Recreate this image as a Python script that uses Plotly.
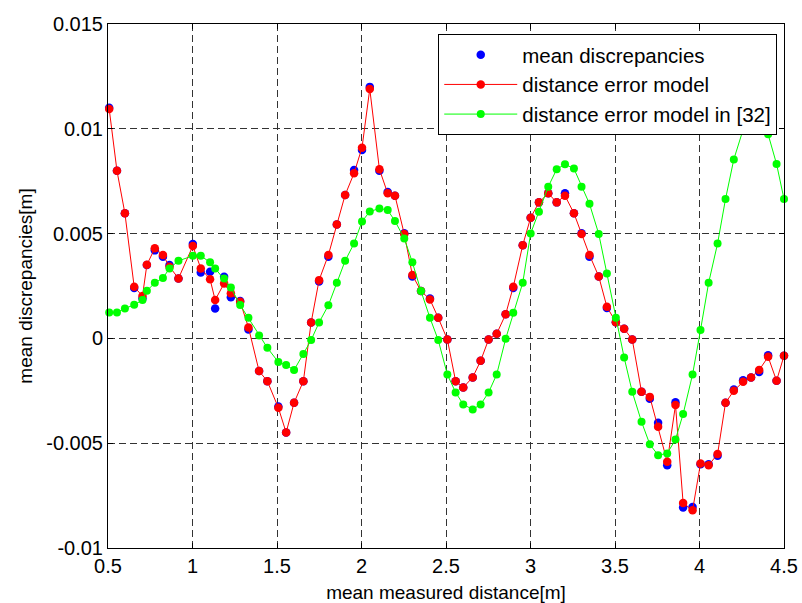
import plotly.graph_objects as go

# mean measured distance [m]
distance = [
    0.507, 0.553, 0.600, 0.655, 0.704, 0.730, 0.777, 0.825, 0.864, 0.917,
    1.002, 1.049, 1.104, 1.134, 1.187, 1.227, 1.282, 1.331, 1.394, 1.443,
    1.508, 1.554, 1.601, 1.656, 1.702, 1.749, 1.804, 1.854, 1.903, 1.956,
    2.003, 2.049, 2.106, 2.155, 2.198, 2.253, 2.301, 2.352, 2.405, 2.454,
    2.508, 2.557, 2.602, 2.658, 2.705, 2.752, 2.800, 2.853, 2.898, 2.954,
    3.001, 3.050, 3.105, 3.155, 3.204, 3.257, 3.302, 3.349, 3.404, 3.452,
    3.505, 3.554, 3.602, 3.657, 3.706, 3.755, 3.809, 3.858, 3.903, 3.959,
    4.006, 4.054, 4.107, 4.154, 4.203, 4.258, 4.305, 4.353, 4.406, 4.456,
    4.500,
]

# measured mean discrepancies [mm]
mean_disc_mm = [
    11.0, 8.0, 5.97, 2.40, 1.90, 3.50, 4.20, 3.90, 3.50, 2.86,
    4.50, 3.15, 3.18, 1.43, 2.94, 1.96, 1.78, 0.43, -1.56, -2.04,
    -3.25, -4.49, -3.07, -2.04, 0.76, 2.72, 3.90, 5.44, 6.84, 8.03,
    8.99, 12.0, 8.00, 6.98, 6.81, 5.02, 2.95, 2.26, 1.90, 0.98,
    -0.05, -2.04, -2.34, -1.86, -1.07, -0.05, 0.22, 1.15, 2.40, 4.45,
    5.76, 6.49, 6.92, 6.49, 6.92, 5.97, 5.02, 3.90, 2.95, 1.45,
    0.77, 0.46, -0.05, -2.55, -2.88, -4.03, -6.05, -3.05, -8.07, -8.04,
    -6.00, -6.00, -5.60, -3.07, -2.44, -2.00, -1.86, -1.60, -0.80, -2.02,
    -0.83,
]

# proposed distance error model [mm]
error_model_mm = [
    10.95, 8.0, 5.97, 2.46, 2.02, 3.51, 4.30, 3.98, 3.42, 2.86,
    4.41, 3.34, 2.82, 1.83, 2.62, 2.15, 1.75, 0.525, -1.56, -2.04,
    -3.31, -4.49, -3.07, -2.04, 0.76, 2.78, 3.98, 5.44, 6.84, 7.88,
    9.10, 11.9, 8.07, 6.92, 6.81, 4.98, 3.02, 2.26, 1.86, 0.98,
    -0.05, -2.04, -2.34, -1.86, -1.07, -0.05, 0.22, 1.15, 2.46, 4.45,
    5.76, 6.49, 6.92, 6.49, 6.81, 5.97, 4.98, 3.98, 2.95, 1.51,
    0.77, 0.46, -0.05, -2.55, -2.79, -4.22, -5.89, -3.18, -7.85, -8.20,
    -5.97, -6.05, -5.52, -3.07, -2.50, -2.07, -1.86, -1.51, -0.88, -2.02,
    -0.83,
]

# distance error model of reference [32] [mm]
ref32_model_mm = [
    1.24, 1.24, 1.43, 1.60, 1.83, 2.27, 2.65, 2.88, 3.34, 3.70,
    3.94, 3.94, 3.63, 3.34, 2.86, 2.43, 1.59, 0.98, 0.14, -0.45,
    -1.13, -1.27, -1.51, -0.75, -0.08, 0.76, 1.58, 2.65, 3.70, 4.53,
    5.58, 6.05, 6.20, 6.12, 5.60, 4.77, 3.63, 2.26, 0.98, -0.08,
    -1.72, -2.58, -3.15, -3.39, -3.15, -2.58, -1.72, -0.02, 1.22, 2.65,
    5.01, 6.04, 7.24, 8.07, 8.31, 8.10, 7.24, 6.42, 4.98, 3.10,
    0.98, -0.91, -2.55, -3.98, -5.05, -5.57, -5.49, -4.82, -3.61, -1.72,
    0.40, 2.65, 4.53, 6.65, 8.54, 9.96, 10.9, 11.1, 9.74, 8.32,
    6.65,
]

x_ticks = [0.5, 1.0, 1.5, 2.0, 2.5, 3.0, 3.5, 4.0, 4.5]
x_tick_text = ["0.5", "1", "1.5", "2", "2.5", "3", "3.5", "4", "4.5"]
y_ticks = [-0.01, -0.005, 0.0, 0.005, 0.01, 0.015]
y_tick_text = ["-0.01", "-0.005", "0", "0.005", "0.01", "0.015"]

to_m = lambda vals: [v / 1000.0 for v in vals]

FONT = "Liberation Sans, Arial, Helvetica, sans-serif"

fig = go.Figure()
fig.add_trace(go.Scatter(
    x=distance, y=to_m(mean_disc_mm), mode="markers",
    name="mean discrepancies",
    marker=dict(color="#0000ff", size=8.5),
    cliponaxis=False,
))
fig.add_trace(go.Scatter(
    x=distance, y=to_m(error_model_mm), mode="lines+markers",
    name="distance error model",
    line=dict(color="#ff0000", width=1),
    marker=dict(color="#ff0000", size=8.5),
    cliponaxis=False,
))
fig.add_trace(go.Scatter(
    x=distance, y=to_m(ref32_model_mm), mode="lines+markers",
    name="distance error model in [32]",
    line=dict(color="#00ff00", width=1),
    marker=dict(color="#00ff00", size=8),
    cliponaxis=False,
))

axis_common = dict(
    showline=True, linecolor="black", linewidth=1, mirror="ticks",
    ticks="inside", ticklen=5, tickcolor="black",
    showgrid=True, gridcolor="#333333", gridwidth=1, griddash="7px,4px",
    zeroline=False, automargin=False,
    tickfont=dict(family=FONT, size=20, color="black"),
)

fig.update_xaxes(
    range=[0.5, 4.5], tickvals=x_ticks, ticktext=x_tick_text,
    title=dict(text="mean measured distance[m]", font=dict(family=FONT, size=19, color="black"), standoff=18),
    **axis_common,
)
fig.update_yaxes(
    range=[-0.01, 0.015], tickvals=y_ticks, ticktext=y_tick_text,
    title=dict(text="mean discrepancies[m]", font=dict(family=FONT, size=19, color="black"), standoff=8),
    **axis_common,
)

fig.update_layout(
    width=802, height=603, autosize=False,
    margin=dict(l=108, r=18, t=24, b=55, pad=0),
    paper_bgcolor="white", plot_bgcolor="white",
    font=dict(family=FONT, size=20, color="black"),
    legend=dict(
        x=0.99, y=0.981, xanchor="right", yanchor="top",
        bgcolor="white", bordercolor="black", borderwidth=1,
        font=dict(family=FONT, size=20.5, color="black"),
        itemwidth=73,
    ),
)

fig.write_html("out.html")
